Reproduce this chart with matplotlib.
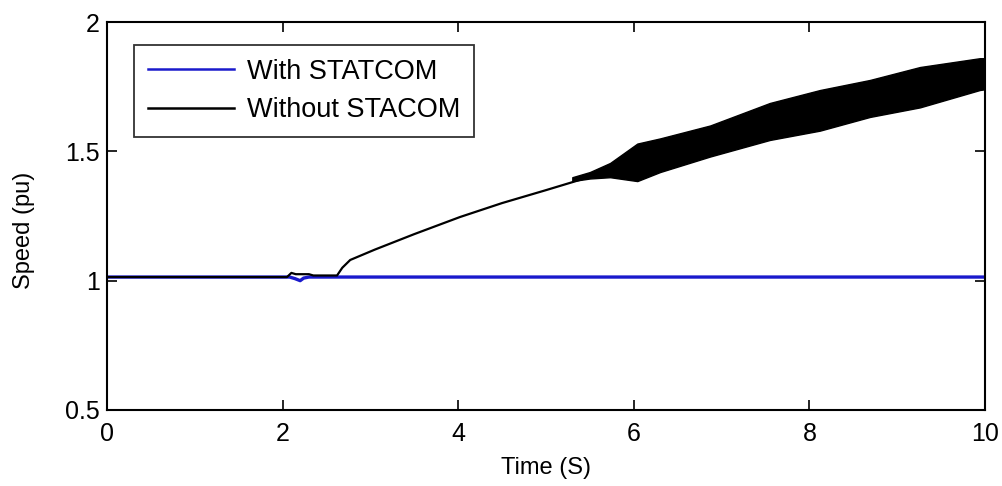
import matplotlib
matplotlib.use("Agg")
import matplotlib.pyplot as plt

plt.rcParams['font.family'] = ['Liberation Sans', 'DejaVu Sans']

# Blue: with STATCOM (flat, small dip at fault)
t_with = [0, 2.08, 2.14, 2.2, 2.24, 2.3, 10]
speed_with = [1.014, 1.014, 1.008, 1.0, 1.01, 1.014, 1.014]

# Black: without STATCOM (mid trace)
t_without = [0, 2.05, 2.1, 2.15, 2.3, 2.35, 2.62, 2.68, 2.77, 3.05, 3.5, 4.02, 4.5, 5.0, 5.39, 5.73,
             6.04, 6.3, 6.87, 7.55, 8.12, 8.69, 9.26, 9.94, 10]
speed_without = [1.014, 1.014, 1.03, 1.025, 1.025, 1.02, 1.02, 1.05, 1.08, 1.12, 1.18, 1.246, 1.30,
                 1.35, 1.39, 1.43, 1.46, 1.49, 1.54, 1.615, 1.66, 1.705, 1.75, 1.80, 1.80]

# Oscillation envelope of the black trace
t_band = [5.3, 5.5, 5.73, 6.04, 6.3, 6.87, 7.55, 8.12, 8.69, 9.26, 9.94, 10]
band_upper = [1.40, 1.42, 1.455, 1.53, 1.55, 1.60, 1.687, 1.737, 1.776, 1.826, 1.86, 1.86]
band_lower = [1.385, 1.395, 1.40, 1.385, 1.42, 1.48, 1.544, 1.58, 1.633, 1.67, 1.737, 1.74]

fig = plt.figure(figsize=(10.02, 4.86), dpi=100)
ax = fig.add_axes([0.1068, 0.1564, 0.8762, 0.7983])

ax.plot(t_with, speed_with, color='#1a1acc', lw=2.4, label='With STATCOM', zorder=2)
ax.plot(t_without, speed_without, color='black', lw=1.6, label='Without STACOM', zorder=3)
ax.fill_between(t_band, band_lower, band_upper, color='black', lw=1.0, zorder=3)

ax.set_xlim(0, 10)
ax.set_ylim(0.5, 2)
ax.set_xticks([0, 2, 4, 6, 8, 10])
ax.set_yticks([0.5, 1, 1.5, 2])
ax.set_yticklabels(['0.5', '1', '1.5', '2'])
ax.tick_params(direction='in', length=7, width=1.2, labelsize=18, top=True, right=True)
ax.tick_params(axis='x', pad=9)
ax.tick_params(axis='y', pad=5)
for s in ax.spines.values():
    s.set_linewidth(1.5)

ax.set_xlabel('Time (S)', fontsize=17)
ax.set_ylabel('Speed (pu)', fontsize=17)
ax.xaxis.set_label_coords(0.5, -0.122)
ax.yaxis.set_label_coords(-0.082, 0.464)

leg = ax.legend(loc='upper left', bbox_to_anchor=(0.031, 0.94), fontsize=19.5, frameon=True,
                fancybox=False, edgecolor='black', handlelength=3.2, borderpad=0.5,
                labelspacing=0.45, handletextpad=0.45, borderaxespad=0)
leg.get_frame().set_linewidth(1.3)
for line in leg.get_lines():
    line.set_linewidth(1.8)

fig.savefig('out.png', dpi=100)
